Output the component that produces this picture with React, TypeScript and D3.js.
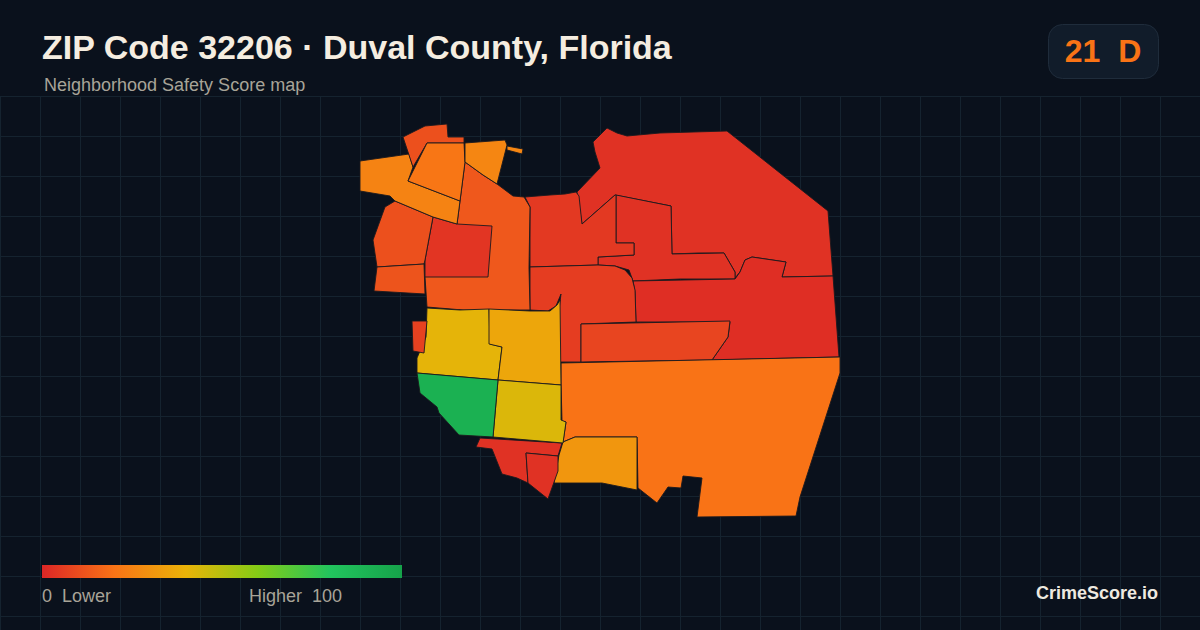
import * as d3 from "d3";

// Map outlines are in map units, scaled onto the picture below
const northTip = [[43,17],[65,6],[87,4],[88,17],[104,17],[104,23],[67,23],[53,47],[48,32]];
const westWing = [[0,41],[49,34],[53,47],[48,61],[100,81],[97,104],[73,97],[35,81],[30,76],[0,71]];
const northBlock = [[67,23],[104,23],[105,42],[100,81],[48,61]];
const riverBlock = [[105,23],[145,20],[147,25],[137,64],[123,55],[105,42]];
const riverSliver = [[147,26],[163,29],[162,34],[147,30]];
const centerWest = [[105,42],[123,55],[137,64],[153,76],[164,77],[170,87],[169,148],[170,190],[103,190],[67,187],[65,157],[65,140],[73,97],[97,104],[100,81]];
const centerInner = [[73,97],[97,104],[132,106],[128,157],[65,157],[65,140]];
const westUpper = [[35,81],[73,97],[65,140],[64,144],[17,147],[13,120],[25,87]];
const westLower = [[17,147],[64,144],[65,174],[14,171]];
const midNorth = [[165,77],[190,75],[205,74],[216,72],[219,76],[222,104],[255,75],[256,75],[256,123],[274,123],[274,135],[238,137],[238,145],[170,147],[170,87]];
const northEast = [[233,22],[247,8],[257,13],[267,16],[300,13],[367,11],[468,91],[473,156],[422,157],[426,142],[392,137],[385,140],[380,152],[375,158],[375,152],[364,133],[338,133],[312,134],[311,86],[255,75],[222,104],[217,72],[240,48],[235,32]];
const midInner = [[256,75],[311,86],[312,134],[364,133],[375,152],[375,159],[320,159],[273,161],[269,150],[255,146],[238,145],[238,137],[274,135],[274,123],[256,123]];
const eastBand = [[273,161],[375,159],[380,152],[385,140],[392,137],[426,142],[422,157],[473,156],[479,237],[352,240],[368,217],[370,202],[276,202],[275,172]];
const midCenter = [[170,147],[238,145],[255,146],[265,150],[272,158],[275,170],[276,202],[221,204],[221,242],[200,242],[199,190],[201,174],[196,186],[188,191],[170,190]];
const midSouth = [[221,204],[370,201],[368,217],[352,240],[221,242]];
const southEast = [[201,243],[480,237],[480,253],[440,377],[436,396],[337,397],[342,358],[323,356],[321,368],[308,367],[297,383],[278,368],[277,317],[215,317],[203,322],[206,302],[202,301],[201,263]];
const southMid = [[203,322],[215,317],[277,317],[277,370],[242,363],[217,363],[194,363],[199,335]];
const southRed = [[120,318],[202,323],[198,336],[166,333],[168,363],[157,358],[142,354],[132,329],[116,327]];
const southRedInner = [[166,333],[198,336],[198,351],[188,379],[168,363]];
const riverGreen = [[57,253],[138,260],[133,317],[99,315],[79,293],[77,287],[60,273]];
const yellowWest = [[67,188],[100,190],[129,189],[130,224],[142,227],[138,260],[57,253],[57,238],[66,217]];
const amberCenter = [[129,189],[170,191],[190,191],[197,185],[200,180],[201,265],[138,260],[142,227],[129,224]];
const yellowSouth = [[138,260],[201,265],[201,300],[206,302],[203,323],[133,317]];
const smallWest = [[52,201],[67,201],[64,233],[53,231]];

// Rings in draw order with their score
const rings = [northEast, midInner, eastBand, midNorth, midCenter, midSouth, southEast, southMid, southRed, southRedInner, centerWest, centerInner, westUpper, westLower, westWing, northTip, northBlock, riverBlock, riverSliver, yellowWest, amberCenter, yellowSouth, riverGreen, smallWest];
const scores = [3, 3, 2, 5, 6, 8, 20, 31, 3, 3, 13, 4, 11, 12, 25, 11, 21, 26, 26, 41, 36, 43, 92, 7];

const legendStops = [0, 20, 40, 60, 80, 100];
const legendColors = ["#dc2626", "#f97316", "#eab308", "#84cc16", "#22c55e", "#16a34a"];

const width = 1200;
const height = 630;
const gridTop = 96;
const gridStep = 40;

export default function App() {
  const x = d3.scaleLinear().domain([0, 480]).range([360, 840]);
  const y = d3.scaleLinear().domain([0, 400]).range([120, 520]);
  const color = d3.scaleLinear<string>().domain(legendStops).range(legendColors);
  const legendX = d3.scaleLinear().domain([0, 100]).range([42, 402]);

  const line = d3
    .line<number[]>()
    .x((d) => x(d[0]))
    .y((d) => y(d[1]))
    .curve(d3.curveLinearClosed);

  const font = "'Liberation Sans', Arial, sans-serif";

  return (
    <svg
      width={width}
      height={height}
      viewBox={`0 0 ${width} ${height}`}
      style={{ position: "fixed", left: 0, top: 0, display: "block" }}
      fontFamily={font}
    >
      <defs>
        <linearGradient id="legend-gradient" x1="0" x2="1" y1="0" y2="0">
          {legendStops.map((s, i) => (
            <stop key={s} offset={`${s}%`} stopColor={legendColors[i]} />
          ))}
        </linearGradient>
      </defs>

      <rect width={width} height={height} fill="#0a111c" />

      {/* Grid */}
      <g stroke="#15232f" strokeWidth={1}>
        {d3.range(0, width, gridStep).map((gx) => (
          <line key={gx} x1={gx + 0.5} x2={gx + 0.5} y1={gridTop} y2={height} />
        ))}
        {d3.range(gridTop, height, gridStep).map((gy) => (
          <line key={gy} x1={0} x2={width} y1={gy + 0.5} y2={gy + 0.5} />
        ))}
      </g>

      {/* Map */}
      <g stroke="#1c1a1e" strokeWidth={0.9} strokeLinejoin="round">
        {rings.map((ring, i) => (
          <path key={i} d={line(ring) ?? ""} fill={color(scores[i])} />
        ))}
      </g>

      {/* Header */}
      <text x={42} y={59} fontSize={34} fontWeight={700} fill="#f5ede0">
        ZIP Code 32206 · Duval County, Florida
      </text>
      <text x={44} y={91} fontSize={18} fill="#a8a498">
        Neighborhood Safety Score map
      </text>

      {/* Score badge */}
      <rect x={1048.5} y={24.5} width={110} height={54} rx={14} fill="#111c2a" stroke="#1f2c3b" />
      <text x={1103} y={62} fontSize={32} fontWeight={700} fill="#f97316" textAnchor="middle" style={{ whiteSpace: "pre" }}>
        21  D
      </text>

      {/* Legend */}
      <rect x={legendX(0)} y={565} width={legendX(100) - legendX(0)} height={13} fill="url(#legend-gradient)" />
      <text x={42} y={602} fontSize={18} fill="#a8a498" style={{ whiteSpace: "pre" }}>
        0  Lower
      </text>
      <text x={249} y={602} fontSize={18} fill="#a8a498" style={{ whiteSpace: "pre" }}>
        Higher  100
      </text>

      <text x={1158} y={599} fontSize={18} fontWeight={700} fill="#eee9e0" textAnchor="end">
        CrimeScore.io
      </text>
    </svg>
  );
}
